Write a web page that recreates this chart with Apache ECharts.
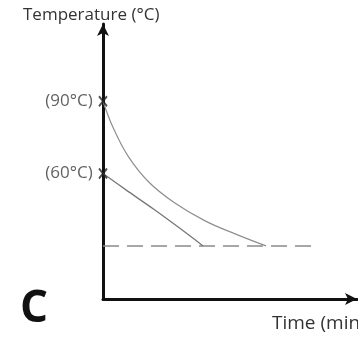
<!DOCTYPE html>
<html>
<head>
<meta charset="utf-8">
<script src="https://cdn.jsdelivr.net/npm/echarts@6/dist/echarts.min.js"></script>
<style>
  html, body { margin: 0; padding: 0; background: #fff; }
  #main { width: 358px; height: 337px; }
</style>
</head>
<body>
<div id="main"></div>
<script>
// cooling curves (time in min, temp in °C)
const hotCurve = [[0, 90], [2, 79], [5, 67], [9, 56.5], [14, 48], [20, 40.5], [26, 35], [32.1, 30]]
const warmCurve = [[0, 60], [5, 52.5], [10, 45.2], [15, 37.5], [19.7, 30]]
const roomTemp = [[0, 30], [42.3, 30]]
const startPoints = [[0, 90, '(90°C)'], [0, 60, '(60°C)']]

const chart = echarts.init(document.getElementById('main'))

chart.setOption({
  animation: false,
  title: {
    text: 'Temperature (°C)',
    left: 18,
    top: 2,
    textStyle: { fontFamily: 'Open Sans', fontSize: 17, fontWeight: 'normal', color: '#333' },
  },
  grid: { left: 103, right: 1, top: 24, bottom: 38 },
  xAxis: {
    type: 'value',
    min: 0,
    max: 50,
    axisLine: { lineStyle: { color: '#111', width: 3 }, symbol: ['none', 'arrow'], symbolSize: [9, 12] },
    axisTick: { show: false },
    axisLabel: { show: false },
    splitLine: { show: false },
  },
  yAxis: {
    type: 'value',
    min: 8,
    max: 122,
    axisLine: { show: true, lineStyle: { color: '#111', width: 3 }, symbol: ['none', 'arrow'], symbolSize: [9, 12] },
    axisTick: { show: false },
    axisLabel: { show: false },
    splitLine: { show: false },
  },
  graphic: [
    {
      type: 'text',
      left: 20,
      top: 287,
      style: { text: 'C', font: 'bold 44px "Open Sans"', fill: '#111' },
    },
    {
      type: 'text',
      left: 272,
      top: 314,
      style: { text: 'Time (min)', font: '19px "Open Sans"', fill: '#333' },
    },
  ],
  series: [
    {
      type: 'line',
      data: roomTemp,
      symbol: 'none',
      lineStyle: { color: '#8a8a8a', width: 1.5, type: [16, 8] },
    },
    {
      type: 'line',
      data: hotCurve,
      smooth: 0.4,
      symbol: 'none',
      lineStyle: { color: '#8f8f8f', width: 1.2 },
    },
    {
      type: 'line',
      data: warmCurve,
      smooth: 0.3,
      symbol: 'none',
      lineStyle: { color: '#777', width: 1.3 },
    },
    {
      type: 'scatter',
      data: startPoints,
      symbol: 'path://M0,0L10,12M10,0L0,12',
      symbolSize: [8, 10],
      itemStyle: { color: 'none', borderColor: '#222', borderWidth: 2 },
      label: {
        show: true,
        position: 'left',
        distance: 4,
        formatter: (p) => p.data[2],
        fontFamily: 'Open Sans',
        fontSize: 17,
        color: '#3a3a3a',
      },
      z: 5,
    },
  ],
})
</script>
</body>
</html>
